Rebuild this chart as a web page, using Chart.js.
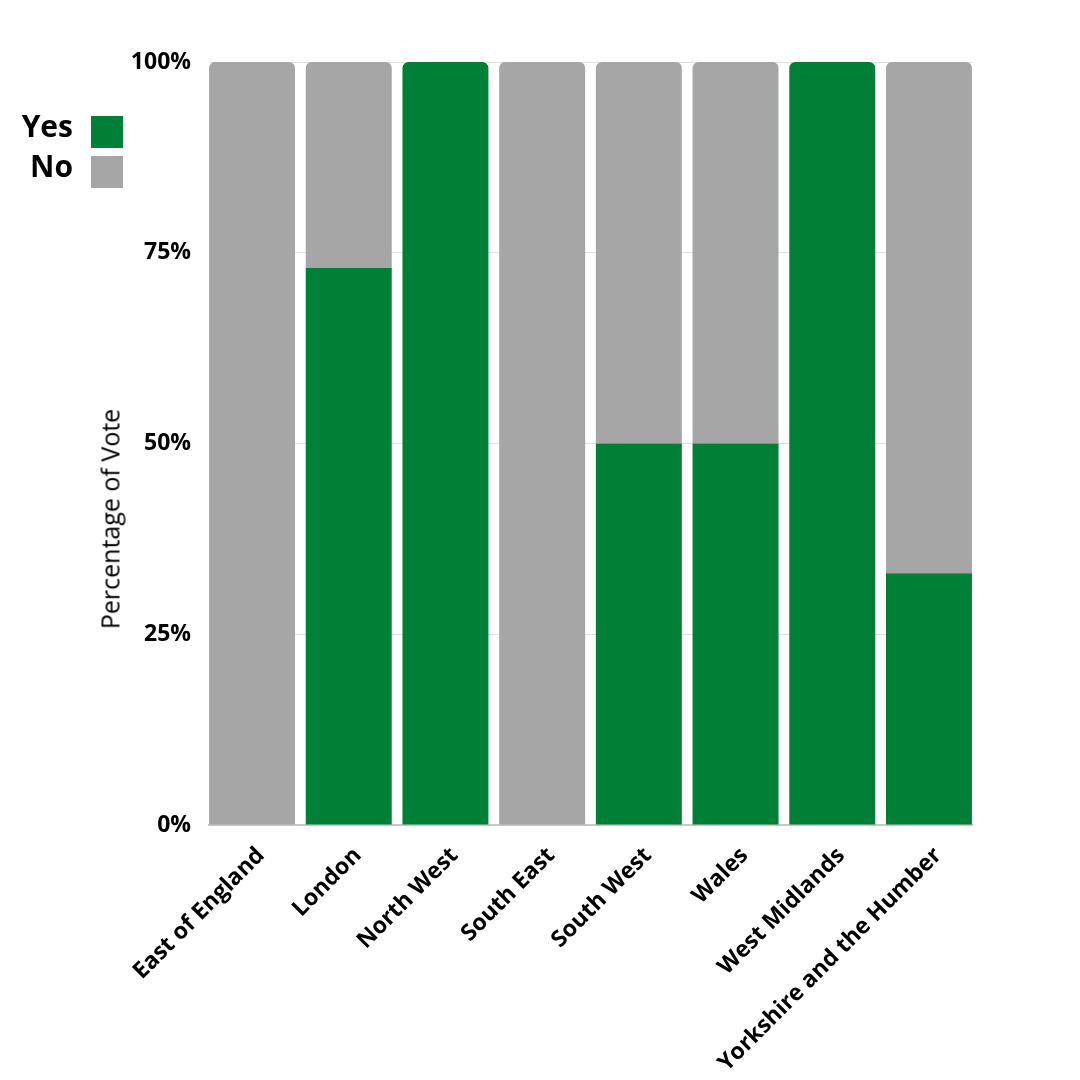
<!DOCTYPE html>
<html>
<head>
<meta charset="utf-8">
<script src="https://cdn.jsdelivr.net/npm/chart.js@4.4.1/dist/chart.umd.min.js"></script>
<style>
  html, body { margin: 0; padding: 0; background: #ffffff; }
  #wrap { position: relative; width: 1080px; height: 1080px; }
  #legend { position: absolute; left: 0; top: 116px; width: 123px; font-family: "Open Sans", sans-serif; font-weight: 700; font-size: 30px; color: #000; }
  .row { display: flex; align-items: flex-start; justify-content: flex-end; height: 32px; margin-bottom: 8px; }
  .row span.txt { line-height: 32px; position: relative; top: -6px; }
  .row span.box { display: inline-block; width: 32px; height: 32px; margin-left: 18px; }
  #ytitle { position: absolute; left: 110px; top: 519px; transform: translate(-50%, -50%) rotate(-90deg); white-space: nowrap; font-family: "Open Sans", sans-serif; font-size: 25px; color: #000; line-height: 1; }
</style>
</head>
<body>
<div id="wrap">
  <canvas id="c" width="1080" height="1080"></canvas>
  <div id="legend"></div>
  <div id="ytitle"></div>
</div>
<script>
const categories = ["East of England", "London", "North West", "South East", "South West", "Wales", "West Midlands", "Yorkshire and the Humber"];
const yesValues = [0, 73, 100, 0, 50, 50, 100, 33];
const noValues = [100, 27, 0, 100, 50, 50, 0, 67];
const yTicks = [0, 25, 50, 75, 100];
const seriesNames = ["Yes", "No"];
const seriesColors = ["#008037", "#a6a6a6"];
const yTitle = "Percentage of Vote";

const toPoints = (vals) => vals.map((v, i) => ({ x: i, y: v }));

const ctx = document.getElementById('c').getContext('2d');
const chart = new Chart(ctx, {
  type: 'bar',
  data: {
    datasets: [
      { label: seriesNames[0], data: toPoints(yesValues), backgroundColor: seriesColors[0], borderRadius: 6, borderSkipped: 'start', barPercentage: 0.889, categoryPercentage: 1.0 },
      { label: seriesNames[1], data: toPoints(noValues), backgroundColor: seriesColors[1], borderRadius: 6, borderSkipped: 'start', barPercentage: 0.889, categoryPercentage: 1.0 }
    ]
  },
  options: {
    responsive: false,
    animation: false,
    layout: { padding: { left: 88, right: 108, top: 62, bottom: 0 } },
    plugins: { legend: { display: false }, tooltip: { enabled: false } },
    scales: {
      x: {
        type: 'linear',
        stacked: true,
        offset: false,
        min: -0.445, max: categories.length - 1 + 0.445,
        bounds: 'data',
        afterBuildTicks: (s) => { s.ticks = categories.map((c, i) => ({ value: i })); },
        grid: { display: false, drawTicks: false, offset: false },
        border: { display: true, color: '#c8c8c8', width: 2 },
        ticks: {
          color: '#000', minRotation: 45, maxRotation: 45, padding: 17, labelOffset: 9, autoSkip: false,
          font: { family: 'Open Sans', weight: 'bold', size: 23 },
          callback: (v) => categories[v] !== undefined ? categories[v] : ''
        },
        afterFit: (s) => { s.height = 1080 - 825; }
      },
      y: {
        stacked: true,
        min: 0, max: 100,
        afterBuildTicks: (s) => { s.ticks = yTicks.map(v => ({ value: v })); },
        grid: { color: '#e0e0e0', lineWidth: 1, drawTicks: false },
        border: { display: false },
        ticks: {
          color: '#000', padding: 18,
          font: { family: 'Open Sans', weight: 'bold', size: 23 },
          callback: (v) => v + '%'
        },
        afterFit: (s) => { s.width = 209 - 88; }
      }
    }
  }
});

document.getElementById('ytitle').textContent = yTitle;
const legend = document.getElementById('legend');
chart.data.datasets.forEach(ds => {
  const row = document.createElement('div');
  row.className = 'row';
  const t = document.createElement('span');
  t.className = 'txt';
  t.textContent = ds.label;
  const b = document.createElement('span');
  b.className = 'box';
  b.style.background = ds.backgroundColor;
  row.appendChild(t); row.appendChild(b);
  legend.appendChild(row);
});
</script>
</body>
</html>
